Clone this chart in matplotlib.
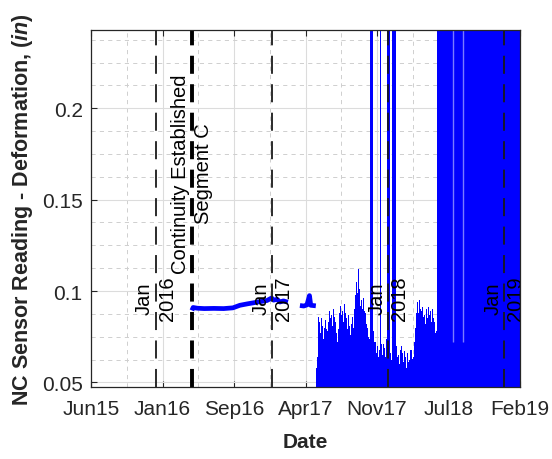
import matplotlib
matplotlib.use("Agg")
import matplotlib.pyplot as plt
import matplotlib.dates as mdates
import numpy as np
import pandas as pd

plt.rcParams['font.family'] = ['Liberation Sans', 'DejaVu Sans']
plt.rcParams['lines.scale_dashes'] = False
plt.rcParams['mathtext.fontset'] = 'custom'
plt.rcParams['mathtext.it'] = 'Liberation Sans:italic:bold'
plt.rcParams['mathtext.rm'] = 'Liberation Sans:bold'
plt.rcParams['mathtext.bf'] = 'Liberation Sans:bold'

# ---- sensor record -------------------------------------------------------
# Stable period after continuity was established
stable_dates = ['2016-04-23', '2016-04-27', '2016-05-10', '2016-06-01', '2016-07-01',
                '2016-08-01', '2016-08-30', '2016-09-21', '2016-10-15', '2016-11-01',
                '2016-11-20', '2016-12-15', '2016-12-30', '2017-01-05', '2017-01-16',
                '2017-01-25', '2017-02-05', '2017-02-19']
stable_vals = [0.0894, 0.0910, 0.0906, 0.0904, 0.0905,
               0.0904, 0.0908, 0.0922, 0.0930, 0.0935,
               0.0941, 0.0948, 0.0962, 0.0950, 0.0955,
               0.0940, 0.0946, 0.0939]

# Short segment recorded before the signal became noisy
late_dates = ['2017-03-29', '2017-04-10', '2017-04-20', '2017-04-28', '2017-05-02', '2017-05-18']
late_vals = [0.0921, 0.0918, 0.0924, 0.0975, 0.0922, 0.0919]

# Noisy period: upper envelope of readings per 3-day bin
noisy_start = '2017-05-19'
noisy_step_days = 3
noisy_hi = [0.058, 0.064, 0.086, 0.080, 0.083, 0.077, 0.085, 0.081, 0.074, 0.080,
            0.084, 0.079, 0.078, 0.083, 0.089, 0.085, 0.087, 0.081, 0.090, 0.086,
            0.083, 0.077, 0.072, 0.079, 0.088, 0.084, 0.092, 0.087, 0.089, 0.083,
            0.093, 0.088, 0.085, 0.079, 0.087, 0.081, 0.076, 0.082, 0.086, 0.080,
            0.090, 0.098, 0.105, 0.099, 0.112, 0.101, 0.097, 0.092, 0.095, 0.090,
            0.096, 0.089, 0.088, 0.082, 0.080, 0.075, 0.074, 0.300, 0.300, 0.300,
            0.078, 0.072, 0.072, 0.066, 0.070, 0.064, 0.068, 0.300, 0.300, 0.071,
            0.065, 0.071, 0.069, 0.064, 0.074, 0.300, 0.300, 0.300, 0.066, 0.062,
            0.300, 0.300, 0.300, 0.300, 0.070, 0.064, 0.065, 0.060, 0.068, 0.063,
            0.070, 0.066, 0.061, 0.067, 0.064, 0.058, 0.066, 0.061, 0.062, 0.068,
            0.068, 0.063, 0.064, 0.072, 0.080, 0.088, 0.094, 0.088, 0.095, 0.090,
            0.083, 0.089, 0.091, 0.086, 0.087, 0.082, 0.090, 0.085, 0.091, 0.087,
            0.089, 0.083, 0.090, 0.085, 0.083, 0.077, 0.078, 0.072]
noise_floor = 0.046

# Saturated period (readings beyond the plotted range)
sat_start = '2018-06-03'
sat_end = '2019-02-19'
sat_top = 0.300
streak_dates = ['2018-07-24', '2018-08-24']
streak_top = 0.072

# Reference markers
year_marks = ['2016-01-01', '2017-01-01', '2018-01-01', '2019-01-01']
year_labels = ['Jan\n2016', 'Jan\n2017', 'Jan\n2018', 'Jan\n2019']
year_label_y = 0.0963
continuity_date = '2016-04-23'
continuity_label = 'Continuity Established\nSegment C'
continuity_label_y = 0.1646

# Axes ranges and ticks
x_range = ('2015-06-10 12:00', '2019-02-19 12:00')
y_range = (0.0475, 0.2428)
x_tick_labels = ['Jun15', 'Jan16', 'Sep16', 'Apr17', 'Nov17', 'Jul18', 'Feb19']
y_ticks = [0.05, 0.1, 0.15, 0.2]
y_tick_labels = ['0.05', '0.1', '0.15', '0.2']

# ---- figure ---------------------------------------------------------------
fig = plt.figure(figsize=(5.52, 4.60), dpi=100)
ax = fig.add_axes([91 / 552, 1 - 388 / 460, (520 - 91) / 552, (388 - 31) / 460])

blue = '#0000ff'
ink = '#262626'

# stable trace
ax.plot(pd.to_datetime(stable_dates), stable_vals, color=blue, lw=3.4,
        solid_capstyle='butt', zorder=3)
ax.plot(pd.to_datetime(late_dates), late_vals, color=blue, lw=3.4,
        solid_capstyle='butt', zorder=3)

# noisy trace envelope
n_dates = pd.date_range(noisy_start, periods=len(noisy_hi), freq=f'{noisy_step_days}D')
ax.fill_between(n_dates, noise_floor, noisy_hi, step='mid', color=blue, lw=0, zorder=3)

# saturated period
ax.fill_between(pd.to_datetime([sat_start, sat_end]), noise_floor, sat_top,
                color=blue, lw=0, zorder=3)
ax.vlines(pd.to_datetime(streak_dates), streak_top, sat_top, color='#7a7aff',
          lw=1.0, zorder=3.5)

# year markers
dash = (13, 7.5)
for d, lab in zip(year_marks, year_labels):
    xd = pd.Timestamp(d)
    ax.axvline(xd, color='#1a1a1a', lw=1.3, dashes=dash, zorder=4)
    ax.text(xd, year_label_y, lab, rotation=90, ha='center', va='center',
            multialignment='center', fontsize=14.5, color='black', zorder=6,
            linespacing=1.25)

# continuity marker
cx = pd.Timestamp(continuity_date)
ax.axvline(cx, color='black', lw=2.8, dashes=dash, zorder=4)
ax.text(cx, continuity_label_y, continuity_label, rotation=90, ha='center',
        va='center', multialignment='center', fontsize=14.5, color='black',
        zorder=6, linespacing=1.25)

# limits, ticks, grid
x0, x1 = mdates.date2num(pd.to_datetime(list(x_range)))
ax.set_xlim(x0, x1)
ax.set_ylim(*y_range)
xt = np.linspace(x0, x1, len(x_tick_labels))
ax.set_xticks(xt)
ax.set_xticklabels(x_tick_labels)
ax.set_xticks((xt[:-1] + xt[1:]) / 2, minor=True)
ax.set_yticks(y_ticks)
ax.set_yticklabels(y_tick_labels)
ax.set_yticks(np.arange(0.05, 0.2426, 0.0125), minor=True)

ax.grid(True, which='major', color='#dcdcdc', lw=0.8, zorder=0)
ax.grid(True, which='minor', color='#cfcfcf', lw=0.7, ls=(0, (3, 3)), zorder=0)
ax.set_axisbelow(True)

ax.tick_params(which='major', direction='in', length=4, width=0.8, colors=ink,
               labelsize=15, top=True, right=True)
ax.tick_params(axis='x', which='major', pad=9)
ax.tick_params(axis='y', which='major', pad=6)
ax.tick_params(which='minor', length=0)
for s in ax.spines.values():
    s.set_color(ink)
    s.set_linewidth(0.9)
    s.set_zorder(7)

ax.set_xlabel('Date', fontsize=15, fontweight='bold', color=ink, labelpad=10)
ax.set_ylabel(r'NC Sensor Reading - Deformation, ($\it{in}$)', fontsize=15.5,
              fontweight='bold', color=ink, labelpad=5)

fig.savefig('out.png', dpi=100)
